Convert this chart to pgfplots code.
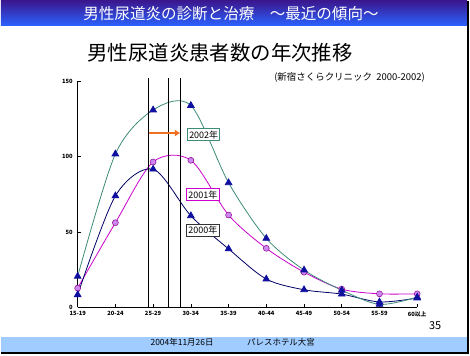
\documentclass[border=0pt]{standalone}
\usepackage{pgfplots}
\pgfplotsset{compat=1.18}
\usetikzlibrary{arrows.meta}
\usepackage{fontspec}
\setmainfont{Noto Sans CJK JP}
\definecolor{c2002}{HTML}{3C8C78}
\definecolor{c2001}{HTML}{CC00CC}
\definecolor{c2000}{HTML}{000066}
\definecolor{mkblue}{HTML}{1010A0}
\definecolor{mkviolet}{HTML}{CC88EE}
\definecolor{hdtop}{HTML}{3A1890}
\definecolor{hdbot}{HTML}{2A62FF}
\definecolor{foot}{HTML}{A0CCFF}
\definecolor{arr}{HTML}{F07020}
\begin{document}
\begin{tikzpicture}
\path[fill=white] (0bp,0bp) rectangle (470bp,355bp);
% header
\shade[top color=hdtop,bottom color=hdbot] (0bp,330bp) rectangle (468bp,355bp);
\node[white,font=\fontsize{15.6bp}{17bp}\selectfont,inner sep=0pt] at (231bp,342bp) {男性尿道炎の診断と治療　～最近の傾向～};
% footer
\fill[foot] (0bp,2bp) rectangle (468bp,18bp);
\draw[line width=2bp] (0bp,1bp) -- (470bp,1bp);
\draw[line width=2bp] (469bp,0bp) -- (469bp,355bp);
\node[font=\fontsize{8.5bp}{10bp}\selectfont,anchor=west,inner sep=0pt] at (150bp,12bp) {2004年11月26日};
\node[font=\fontsize{8.5bp}{10bp}\selectfont,anchor=west,inner sep=0pt] at (247bp,12bp) {パレスホテル大宮};
% titles
\node[font=\fontsize{20.5bp}{22bp}\selectfont,inner sep=0pt] at (220bp,303bp) {男性尿道炎患者数の年次推移};
\node[font=\fontsize{9.5bp}{11bp}\selectfont,inner sep=0pt] at (350bp,278bp) {(新宿さくらクリニック\ \ 2000-2002)};
\node[font=\fontsize{11bp}{12bp}\selectfont,inner sep=0pt] at (436bp,29bp) {35};
\begin{axis}[
  at={(77bp,47.3bp)}, anchor=south west,
  scale only axis, width=341bp, height=227bp,
  xmin=0, xmax=9, ymin=0, ymax=150,
  axis x line=bottom, axis y line=left,
  axis line style={-, line width=1bp},
  tick align=inside, major tick length=3bp,
  tick style={black, line width=0.6bp},
  xtick={0,...,9},
  xticklabels={15-19,20-24,25-29,30-34,35-39,40-44,45-49,50-54,55-59,60以上},
  ytick={0,50,100,150},
  /pgf/number format/assume math mode=true,
  tick label style={font=\fontsize{5.8bp}{6bp}\selectfont\bfseries},
  xticklabel style={yshift=-0.5bp},
  yticklabel style={xshift=-1.5bp},
  clip=false,
]
\addplot[c2001, line width=0.8bp, smooth, mark=*, mark size=3bp, mark options={fill=mkviolet, draw=c2001!70!black, line width=0.5bp}]
 coordinates {(0,12.8)(1,56.2)(2,96.5)(3,97.6)(4,61.3)(5,39.2)(6,23.4)(7,12.1)(8,9)(9,9)};
\addplot[c2000, line width=0.8bp, smooth, mark=triangle*, mark size=3.8bp, mark options={fill=mkblue, draw=mkblue}]
 coordinates {(0,8.4)(1,74)(2,91.7)(3,60.8)(4,38.8)(5,18.8)(6,11.7)(7,8.8)(8,3.6)(9,6.2)};
\addplot[c2002, line width=0.8bp, smooth, mark=triangle*, mark size=3.8bp, mark options={fill=mkblue, draw=mkblue}]
 coordinates {(0,20.6)(1,101.8)(2,131)(3,134)(4,82.7)(5,45.8)(6,24.8)(7,11.4)(8,2)(9,6.8)};
\draw[black, line width=0.9bp] (axis cs:1.88,0) -- (axis cs:1.88,152.5);
\draw[black, line width=0.9bp] (axis cs:2.41,0) -- (axis cs:2.41,152.5);
\draw[black, line width=0.9bp] (axis cs:2.72,0) -- (axis cs:2.72,152.5);
\draw[arr, line width=2bp, -{Triangle[length=5bp,width=6bp]}] (axis cs:1.9,115.7) -- (axis cs:2.71,115.7);
\node[draw=c2002, fill=white, line width=1bp, font=\fontsize{9bp}{10bp}\selectfont, inner sep=1.8bp] at (axis cs:3.34,114.5) {2002年};
\node[draw=c2001, fill=white, line width=1bp, font=\fontsize{9bp}{10bp}\selectfont, inner sep=1.8bp] at (axis cs:3.32,74.8) {2001年};
\node[draw=black!80, fill=white, line width=1bp, font=\fontsize{9bp}{10bp}\selectfont, inner sep=1.8bp] at (axis cs:3.32,51) {2000年};
\end{axis}
\end{tikzpicture}
\end{document}
